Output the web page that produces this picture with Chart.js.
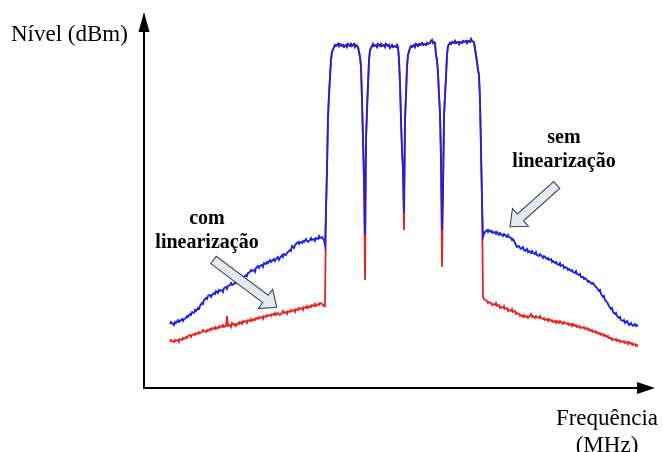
<!DOCTYPE html>
<html>
<head>
<meta charset="utf-8">
<script src="https://cdn.jsdelivr.net/npm/chart.js@4.4.1/dist/chart.umd.min.js"></script>
<style>
  body { margin: 0; background: #fff; }
  #wrap { position: relative; width: 663px; height: 452px; }
  canvas { position: absolute; left: 0; top: 0; }
  .lbl { position: absolute; font-family: "Liberation Serif", "Times New Roman", serif; color: #000; white-space: nowrap; }
  .ann { font-weight: bold; font-size: 20px; line-height: 24px; text-align: center; }
</style>
</head>
<body>
<div id="wrap">
  <canvas id="chart" width="663" height="452"></canvas>
  <div class="lbl" style="left:11px; top:22px; font-size:23px; line-height:24px;">Nível (dBm)</div>
  <div class="lbl" style="left:547px; width:120px; top:404px; font-size:23px; line-height:27px; text-align:center;">Frequência<br>(MHz)</div>
  <div class="lbl ann" style="left:147px; width:120px; top:205px;">com<br>linearização</div>
  <div class="lbl ann" style="left:504px; width:120px; top:124px;">sem<br>linearização</div>
</div>
<script>
// frequency / level in arbitrary units
const blueLeft = [[26,64],[27,66],[28,65],[30,63],[31,66],[32,65],[34,68],[35,66],[36,67],[38,69],[39,67],[40,69],[42,70],[43,72],[44,71],[46,74],[47,73],[48,76],[50,75],[51,78],[52,77],[54,80],[55,79],[56,82],[58,85],[59,84],[60,88],[62,90],[63,89],[64,92],[66,93],[67,91],[68,93],[70,95],[71,94],[72,97],[74,95],[75,98],[76,97],[78,98],[79,96],[80,100],[82,101],[83,99],[84,102],[86,103],[87,105],[88,103],[90,104],[91,106],[92,105],[94,108],[95,106],[96,109],[98,107],[99,110],[100,111],[102,113],[103,112],[104,115],[106,116],[107,118],[108,117],[110,118],[111,116],[112,120],[114,122],[115,120],[116,122],[118,123],[119,121],[120,125],[122,124],[123,126],[124,125],[126,128],[127,126],[128,127],[130,129],[131,127],[132,129],[134,131],[135,128],[136,130],[138,133],[139,131],[140,134],[142,133],[143,135],[144,136],[146,138],[147,137],[148,142],[150,140],[151,143],[152,144],[154,146],[155,144],[156,146],[158,145],[159,147],[160,146],[162,149],[163,147],[164,146],[166,148],[167,150],[168,148],[170,149],[171,147],[172,150],[174,149],[175,152],[176,150],[178,151],[179,149],[180,148],[181,143]];
const redLeft = [[26,46],[27,48],[28,47],[30,46],[31,48],[32,47],[34,48],[35,46],[36,49],[38,48],[39,50],[40,49],[42,51],[43,50],[44,52],[46,53],[47,51],[48,53],[50,54],[51,53],[52,55],[54,54],[55,56],[56,55],[58,56],[59,58],[60,57],[62,56],[63,58],[64,57],[66,59],[67,58],[68,60],[70,59],[71,61],[72,59],[74,61],[75,60],[76,62],[78,61],[79,63],[80,61],[82,62],[83,72],[84,62],[86,63],[87,61],[88,65],[90,63],[91,64],[92,62],[94,65],[95,64],[96,66],[98,64],[99,67],[100,66],[102,67],[103,65],[104,68],[106,67],[107,69],[108,67],[110,69],[111,68],[112,70],[114,69],[115,71],[116,70],[118,71],[119,69],[120,72],[122,71],[123,73],[124,72],[126,73],[127,72],[128,74],[130,73],[131,75],[132,73],[134,75],[135,74],[136,73],[138,75],[139,77],[140,75],[142,76],[143,74],[144,77],[146,76],[147,78],[148,77],[150,78],[151,76],[152,79],[154,78],[155,80],[156,79],[158,80],[159,78],[160,81],[162,80],[163,82],[164,80],[166,82],[167,81],[168,83],[170,82],[171,84],[172,82],[174,84],[175,83],[176,85],[178,84],[179,83],[180,82],[181,82]];

const carrier1 = [[182,178],[183,218],[184,271],[185,293],[186,311],[187,328],[188,336],[190,341],[191,343],[192,342],[194,344],[195,342],[196,344],[198,342],[199,343],[200,341],[202,343],[203,341],[204,344],[206,342],[207,344],[208,342],[210,344],[211,341],[212,343],[214,341],[215,336],[216,331],[217,321],[218,288],[219,248],[220,208]];
const carrier2 = [[222,248],[223,278],[224,303],[225,328],[226,338],[228,342],[229,344],[230,342],[232,343],[233,341],[234,344],[236,342],[237,344],[238,342],[240,343],[241,341],[242,344],[244,342],[245,343],[246,340],[248,343],[249,341],[250,342],[252,341],[253,343],[254,341],[255,328],[256,305],[257,268],[258,238],[259,218]];
const carrier3 = [[261,268],[262,293],[263,321],[264,333],[266,340],[267,342],[268,341],[270,343],[271,341],[272,344],[274,342],[275,344],[276,343],[278,345],[279,343],[280,344],[282,343],[283,345],[284,344],[286,345],[287,347],[288,348],[289,345],[290,346],[291,345],[292,333],[293,328],[294,315],[295,293],[296,275],[297,228]];
const carrier4 = [[299,198],[300,271],[301,293],[302,311],[303,333],[304,342],[306,345],[307,344],[308,346],[310,345],[311,347],[312,345],[314,346],[315,344],[316,346],[318,345],[319,347],[320,346],[322,347],[323,345],[324,347],[326,346],[327,349],[328,347],[330,346],[332,333],[333,326],[334,318],[335,313],[336,288],[337,238],[338,188]];

const dipFreq = [221, 260, 298];
const blueDips = [153, 175, 158];
const redDips = [108, 158, 121];

const blueRight = [[339,151],[340,154],[341,156],[343,158],[344,156],[345,158],[347,156],[348,157],[349,155],[351,156],[352,154],[353,156],[355,153],[356,155],[357,154],[359,152],[360,154],[361,153],[363,151],[364,153],[365,151],[367,150],[368,148],[369,149],[371,145],[372,143],[373,141],[375,142],[376,140],[377,139],[379,141],[380,138],[381,137],[383,139],[384,136],[385,137],[387,135],[388,137],[389,135],[391,134],[392,136],[393,133],[395,132],[396,134],[397,133],[399,130],[400,132],[401,131],[403,129],[404,130],[405,128],[407,129],[408,126],[409,127],[411,125],[412,126],[413,124],[415,123],[416,125],[417,122],[419,123],[420,120],[421,121],[423,120],[424,118],[425,119],[427,117],[428,118],[429,116],[431,115],[432,117],[433,114],[435,113],[436,114],[437,111],[439,111],[440,109],[441,110],[443,108],[444,106],[445,107],[447,105],[448,104],[449,105],[451,102],[452,101],[453,100],[455,97],[456,98],[457,94],[459,91],[460,92],[461,88],[463,86],[464,84],[465,82],[467,79],[468,80],[469,76],[471,74],[472,75],[473,72],[475,70],[476,71],[477,68],[479,67],[480,68],[481,65],[483,67],[484,65],[485,63],[487,65],[488,63],[489,62],[491,64],[492,62],[493,63],[494,62]];
const redRight = [[339,91],[340,89],[341,88],[343,87],[344,85],[345,86],[347,85],[348,83],[349,84],[351,83],[352,85],[353,82],[355,83],[356,80],[357,81],[359,80],[360,82],[361,79],[363,80],[364,77],[365,78],[367,77],[368,79],[369,76],[371,77],[372,74],[373,75],[375,74],[376,72],[377,73],[379,71],[380,73],[381,71],[383,72],[384,70],[385,71],[387,74],[388,71],[389,72],[391,70],[392,72],[393,71],[395,70],[396,72],[397,70],[399,69],[400,70],[401,68],[403,69],[404,67],[405,69],[407,67],[408,68],[409,66],[411,67],[412,65],[413,67],[415,65],[416,67],[417,66],[419,64],[420,66],[421,65],[423,64],[424,65],[425,63],[427,64],[428,62],[429,64],[431,62],[432,63],[433,61],[435,62],[436,60],[437,61],[439,60],[440,61],[441,59],[443,60],[444,58],[445,59],[447,57],[448,58],[449,56],[451,57],[452,55],[453,56],[455,54],[456,55],[457,53],[459,54],[460,52],[461,53],[463,51],[464,52],[465,50],[467,50],[468,48],[469,49],[471,48],[472,49],[473,47],[475,48],[476,46],[477,47],[479,46],[480,47],[481,45],[483,46],[484,44],[485,46],[487,44],[488,45],[489,43],[491,44],[492,42],[493,43],[494,42]];

// block arrows: [tailFreq, tailLevel, tipFreq, tipLevel]
const arrowCom = [69.5, 128, 132.7, 80.7];
const arrowSem = [412.7, 203, 366, 161.3];

function trace(left, dips, right) {
  const pts = [].concat(left, carrier1, [[dipFreq[0], dips[0]]], carrier2, [[dipFreq[1], dips[1]]],
    carrier3, [[dipFreq[2], dips[2]]], carrier4, right);
  return pts.map(p => ({ x: p[0], y: p[1] }));
}

function blockArrow(ctx, x1, y1, x2, y2) {
  const dx = x2 - x1, dy = y2 - y1;
  const len = Math.hypot(dx, dy);
  const ux = dx / len, uy = dy / len, nx = -uy, ny = ux;
  const sw = 4.6, hw = 12, hl = 14;
  const bx = x2 - ux * hl, by = y2 - uy * hl;
  ctx.save();
  ctx.beginPath();
  ctx.moveTo(x1 + nx * sw, y1 + ny * sw);
  ctx.lineTo(bx + nx * sw, by + ny * sw);
  ctx.lineTo(bx + nx * hw, by + ny * hw);
  ctx.lineTo(x2, y2);
  ctx.lineTo(bx - nx * hw, by - ny * hw);
  ctx.lineTo(bx - nx * sw, by - ny * sw);
  ctx.lineTo(x1 - nx * sw, y1 - ny * sw);
  ctx.closePath();
  ctx.fillStyle = "#e3e9f4";
  ctx.fill();
  ctx.strokeStyle = "#444";
  ctx.lineWidth = 1.1;
  ctx.stroke();
  ctx.restore();
}

const decor = {
  id: "decor",
  afterDatasetsDraw(chart) {
    const ctx = chart.ctx;
    const xs = chart.scales.x, ys = chart.scales.y;
    const x0 = xs.getPixelForValue(xs.min), xEnd = xs.getPixelForValue(xs.max);
    const y0 = ys.getPixelForValue(ys.min), yEnd = ys.getPixelForValue(ys.max);
    ctx.save();
    ctx.strokeStyle = "#000";
    ctx.fillStyle = "#000";
    ctx.lineWidth = 2;
    ctx.beginPath();
    ctx.moveTo(x0, y0);
    ctx.lineTo(xEnd - 16, y0);
    ctx.moveTo(x0, y0 + 1);
    ctx.lineTo(x0, yEnd + 18);
    ctx.stroke();
    ctx.beginPath();
    ctx.moveTo(xEnd, y0);
    ctx.lineTo(xEnd - 18, y0 - 6);
    ctx.lineTo(xEnd - 18, y0 + 6);
    ctx.closePath();
    ctx.fill();
    ctx.beginPath();
    ctx.moveTo(x0, yEnd);
    ctx.lineTo(x0 - 5.5, yEnd + 20);
    ctx.lineTo(x0 + 5.5, yEnd + 20);
    ctx.closePath();
    ctx.fill();
    ctx.restore();
    [arrowCom, arrowSem].forEach(a => {
      blockArrow(ctx, xs.getPixelForValue(a[0]), ys.getPixelForValue(a[1]),
        xs.getPixelForValue(a[2]), ys.getPixelForValue(a[3]));
    });
  }
};

new Chart(document.getElementById("chart"), {
  type: "line",
  data: {
    datasets: [
      { label: "sem linearização", data: trace(blueLeft, blueDips, blueRight), borderColor: "#1c22e0", borderWidth: 1.8 },
      { label: "com linearização", data: trace(redLeft, redDips, redRight), borderColor: "#e3241f", borderWidth: 1.8 }
    ]
  },
  options: {
    responsive: false,
    animation: false,
    layout: { padding: { left: 144, top: 12, right: 8, bottom: 64 } },
    elements: { point: { radius: 0 }, line: { tension: 0 } },
    scales: {
      x: { type: "linear", min: 0, max: 511, display: false },
      y: { type: "linear", min: 0, max: 376, display: false }
    },
    plugins: { legend: { display: false }, tooltip: { enabled: false } }
  },
  plugins: [decor]
});
</script>
</body>
</html>
